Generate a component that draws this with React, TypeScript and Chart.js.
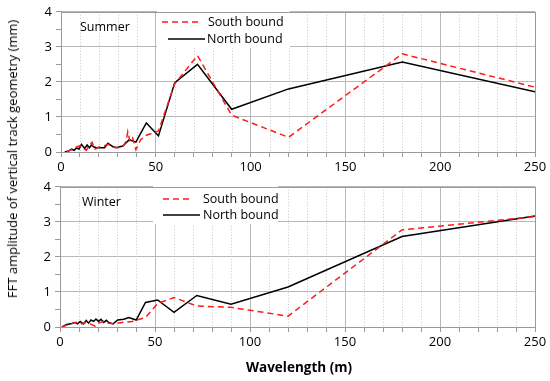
import React, { useEffect, useRef } from "react";
import { Chart, registerables } from "chart.js";

Chart.register(...registerables);

const FONT = '"Open Sans", sans-serif';

// Summer
const southSummerX = [3, 4.7, 7.3, 10, 11.7, 13.4, 15.2, 16.4, 17.8, 20.4, 23, 24.7, 27.4, 30, 32.6, 34.3, 35.2, 36.4, 37.8, 39.5, 42, 45, 51.4, 60, 72, 90, 120, 180, 250];
const southSummerY = [0, 0.05, 0.12, 0.18, 0.1, 0.05, 0.2, 0.28, 0.08, 0.15, 0.18, 0.22, 0.15, 0.12, 0.15, 0.3, 0.58, 0.3, 0.4, 0.07, 0.35, 0.48, 0.6, 1.95, 2.75, 1.05, 0.42, 2.8, 1.85];
const northSummerX = [2, 4, 5.6, 7, 8.2, 9.5, 10.8, 12.5, 13.8, 15, 16, 17.2, 18.6, 20.4, 23, 24.7, 27.4, 29, 32.6, 36, 39.5, 45, 51.4, 60, 72, 90, 120, 180, 250];
const northSummerY = [0, 0.03, 0.08, 0.05, 0.12, 0.08, 0.22, 0.1, 0.2, 0.12, 0.2, 0.15, 0.12, 0.12, 0.12, 0.25, 0.15, 0.12, 0.17, 0.35, 0.28, 0.83, 0.46, 1.98, 2.5, 1.22, 1.8, 2.57, 1.72];

// Winter
const southWinterX = [1, 4.4, 7.1, 9.7, 11.5, 13.3, 15.9, 18.6, 20.3, 23, 25.6, 28.3, 32.7, 38, 40.6, 45, 51.4, 60, 72, 90, 120, 180, 250];
const southWinterY = [0, 0.07, 0.11, 0.15, 0.09, 0.13, 0.09, 0.02, 0.11, 0.16, 0.11, 0.09, 0.13, 0.16, 0.2, 0.27, 0.67, 0.84, 0.6, 0.56, 0.31, 2.77, 3.15];
const northWinterX = [1, 3.5, 6.2, 8, 9.2, 10.6, 12.4, 13.8, 15, 16.3, 17.7, 18.9, 20.3, 21.6, 23, 24.4, 25.6, 27.9, 30.4, 33.6, 36.2, 40.1, 45, 51.4, 60, 72, 90, 120, 180, 250];
const northWinterY = [0, 0.07, 0.1, 0.13, 0.09, 0.16, 0.09, 0.19, 0.11, 0.2, 0.16, 0.23, 0.16, 0.22, 0.13, 0.19, 0.13, 0.09, 0.2, 0.22, 0.27, 0.2, 0.7, 0.77, 0.42, 0.9, 0.65, 1.14, 2.58, 3.17];

const seriesNames = ["South bound", "North bound"];
const panelNames = ["Summer", "Winter"];
const xMin = 0, xMax = 250, xMajor = 50, xMinor = 10;
const yMin = 0, yMax = 4;

const toPts = (xs: number[], ys: number[]) => xs.map((x, i) => ({ x, y: ys[i] }));

type Layout = {
  height: number;
  padTop: number;
  yWidth: number;
  xHeight: number;
  box: { x: number; y: number; w: number; h: number };
  red: { x1: number; x2: number; y: number; tx: number };
  blk: { x1: number; x2: number; y: number; tx: number };
  title: { x: number; y: number };
};

function makeConfig(sx: number[], sy: number[], nx: number[], ny: number[], panel: string, L: Layout): any {
  const gridPlugin = {
    id: "minorGridLegend",
    beforeDatasetsDraw(chart: any) {
      const { ctx, chartArea, scales } = chart;
      ctx.save();
      ctx.strokeStyle = "#c8c8c8";
      ctx.lineWidth = 1;
      ctx.setLineDash([1, 2]);
      for (let v = xMin + xMinor; v < xMax; v += xMinor) {
        if (v % xMajor === 0) continue;
        const px = Math.round(scales.x.getPixelForValue(v)) + 0.5;
        ctx.beginPath();
        ctx.moveTo(px, chartArea.top);
        ctx.lineTo(px, chartArea.bottom);
        ctx.stroke();
      }
      ctx.setLineDash([]);
      // legend box
      ctx.fillStyle = "#ffffff";
      ctx.fillRect(L.box.x, L.box.y, L.box.w, L.box.h);
      ctx.font = `12.5px ${FONT}`;
      ctx.textBaseline = "middle";
      ctx.textAlign = "left";
      ctx.fillStyle = "#000";
      ctx.fillText(panel, L.title.x, L.title.y);
      const ds = chart.data.datasets;
      ctx.lineWidth = 1.5;
      ctx.strokeStyle = ds[0].borderColor;
      ctx.setLineDash([6, 4]);
      ctx.beginPath();
      ctx.moveTo(L.red.x1, L.red.y);
      ctx.lineTo(L.red.x2, L.red.y);
      ctx.stroke();
      ctx.setLineDash([]);
      ctx.strokeStyle = ds[1].borderColor;
      ctx.beginPath();
      ctx.moveTo(L.blk.x1, L.blk.y);
      ctx.lineTo(L.blk.x2, L.blk.y);
      ctx.stroke();
      ctx.fillText(ds[0].label, L.red.tx, L.red.y);
      ctx.fillText(ds[1].label, L.blk.tx, L.blk.y);
      ctx.restore();
    },
    afterDraw(chart: any) {
      const { ctx, chartArea } = chart;
      ctx.save();
      ctx.strokeStyle = "#9a9a9a";
      ctx.lineWidth = 1;
      ctx.strokeRect(
        Math.round(chartArea.left) + 0.5,
        Math.round(chartArea.top) + 0.5,
        Math.round(chartArea.right - chartArea.left),
        Math.round(chartArea.bottom - chartArea.top)
      );
      ctx.restore();
    },
  };

  return {
    type: "line",
    data: {
      datasets: [
        {
          label: seriesNames[0],
          data: toPts(sx, sy),
          borderColor: "#ff1a1a",
          borderDash: [6, 4],
          borderWidth: 1.5,
          pointRadius: 0,
          tension: 0,
          fill: false,
        },
        {
          label: seriesNames[1],
          data: toPts(nx, ny),
          borderColor: "#000000",
          borderWidth: 1.5,
          pointRadius: 0,
          tension: 0,
          fill: false,
        },
      ],
    },
    options: {
      animation: false,
      responsive: false,
      devicePixelRatio: 1,
      layout: { padding: { top: L.padTop, right: 15, left: 0, bottom: 0 } },
      plugins: { legend: { display: false }, tooltip: { enabled: false } },
      scales: {
        x: {
          type: "linear",
          min: xMin,
          max: xMax,
          afterFit: (s: any) => {
            s.height = L.xHeight;
          },
          ticks: {
            stepSize: xMinor,
            autoSkip: false,
            maxRotation: 0,
            padding: 2,
            color: "#000",
            font: { family: FONT, size: 13 },
            callback: (v: any) => (Number(v) % xMajor === 0 ? String(v) : ""),
          },
          grid: {
            color: (c: any) => (c.tick && c.tick.value % xMajor === 0 ? "#b8b8b8" : "rgba(0,0,0,0)"),
            tickColor: "#9a9a9a",
            tickLength: 5,
            lineWidth: 1,
          },
          border: { color: "#9a9a9a" },
        },
        y: {
          min: yMin,
          max: yMax,
          afterFit: (s: any) => {
            s.width = L.yWidth;
          },
          ticks: {
            stepSize: 0.5,
            autoSkip: false,
            padding: 4,
            color: "#000",
            font: { family: FONT, size: 13 },
            callback: (v: any) => (Number.isInteger(Number(v)) ? String(v) : ""),
          },
          grid: {
            color: (c: any) => (c.tick && Number.isInteger(c.tick.value) ? "#b8b8b8" : "rgba(0,0,0,0)"),
            tickColor: "#9a9a9a",
            tickLength: 5,
            lineWidth: 1,
          },
          border: { color: "#9a9a9a" },
        },
      },
    },
    plugins: [gridPlugin],
  };
}

const topLayout: Layout = {
  height: 175,
  padTop: 9,
  yWidth: 61,
  xHeight: 23,
  box: { x: 157, y: 10, w: 133, h: 38 },
  red: { x1: 162, x2: 198, y: 22, tx: 208 },
  blk: { x1: 168, x2: 205, y: 39, tx: 207 },
  title: { x: 80, y: 27 },
};

const bottomLayout: Layout = {
  height: 206,
  padTop: 10,
  yWidth: 60,
  xHeight: 54,
  box: { x: 153, y: 11, w: 125, h: 38 },
  red: { x1: 163, x2: 193, y: 24, tx: 203 },
  blk: { x1: 163, x2: 200, y: 40, tx: 203 },
  title: { x: 82, y: 27 },
};

function Panel(props: { sx: number[]; sy: number[]; nx: number[]; ny: number[]; name: string; L: Layout; top: number }) {
  const ref = useRef<HTMLCanvasElement | null>(null);
  useEffect(() => {
    if (!ref.current) return;
    const chart = new Chart(ref.current, makeConfig(props.sx, props.sy, props.nx, props.ny, props.name, props.L));
    return () => chart.destroy();
  }, []);
  return (
    <canvas
      ref={ref}
      width={550}
      height={props.L.height}
      style={{ position: "absolute", left: 0, top: props.top, width: 550, height: props.L.height }}
    />
  );
}

export default function App() {
  return (
    <div style={{ position: "fixed", left: 0, top: 0, width: 550, height: 381, background: "#fff", overflow: "hidden" }}>
      <Panel sx={southSummerX} sy={southSummerY} nx={northSummerX} ny={northSummerY} name={panelNames[0]} L={topLayout} top={0} />
      <Panel sx={southWinterX} sy={southWinterY} nx={northWinterX} ny={northWinterY} name={panelNames[1]} L={bottomLayout} top={175} />
      <div
        style={{
          position: "absolute",
          left: 12,
          top: 159,
          transform: "translate(-50%, -50%) rotate(-90deg)",
          whiteSpace: "nowrap",
          font: `13px ${FONT}`,
          color: "#000",
        }}
      >
        FFT amplitude of vertical track geometry (mm)
      </div>
      <div
        style={{
          position: "absolute",
          left: 299,
          top: 367,
          transform: "translate(-50%, -50%)",
          whiteSpace: "nowrap",
          font: `bold 13.5px ${FONT}`,
          color: "#000",
        }}
      >
        Wavelength (m)
      </div>
    </div>
  );
}
